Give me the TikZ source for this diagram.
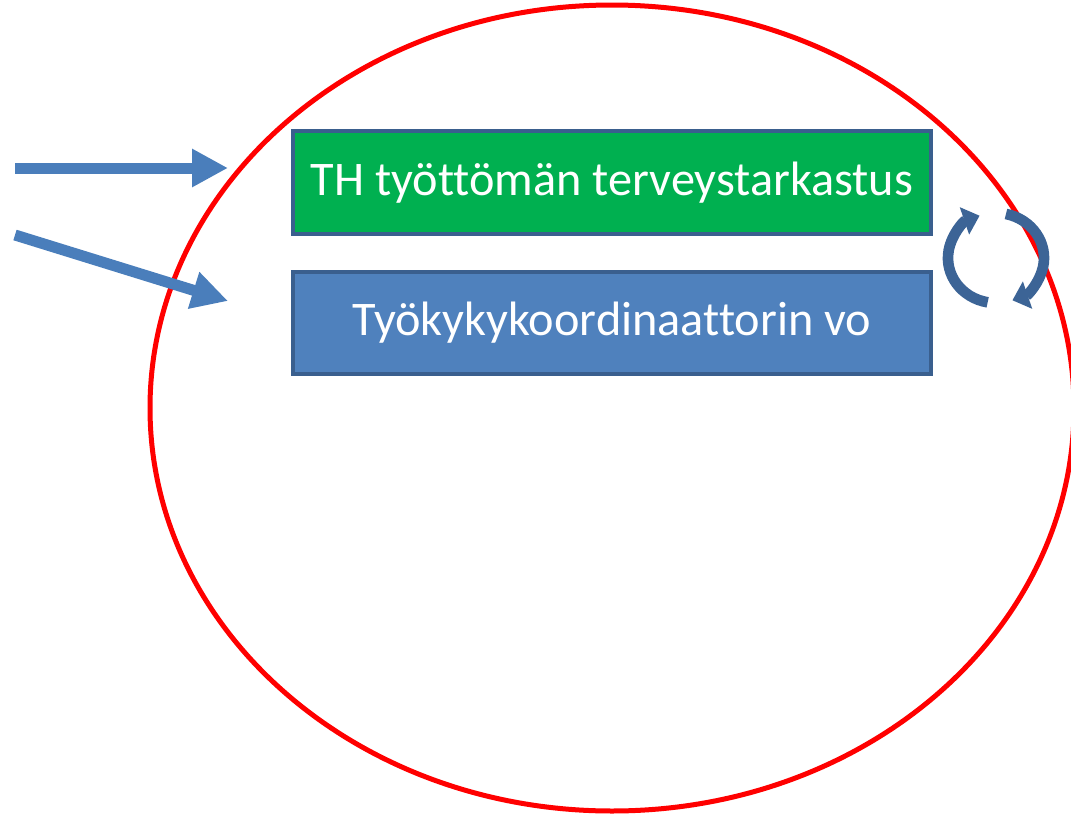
\documentclass[tikz,border=0pt]{standalone}
\usepackage{fontspec}
\setmainfont[Ligatures=NoCommon]{Carlito}
\usetikzlibrary{arrows.meta}

\definecolor{arrowblue}{HTML}{4A7EBB}
\definecolor{cycleblue}{HTML}{3C6496}
\definecolor{boxedge}{HTML}{3A5F8E}
\definecolor{boxgreen}{HTML}{00B050}
\definecolor{boxblue}{HTML}{4F81BD}

\tikzset{
  taskbox/.style={draw=boxedge, line width=3pt, minimum width=478pt, minimum height=77pt,
    inner sep=0pt, text=white, font=\fontsize{36.2}{42}\selectfont},
  bigarrow/.style={arrowblue, line width=8.25pt, -{Triangle[length=27pt,width=27pt]}},
  cyclearrow/.style={cycleblue, line width=8pt, -{Triangle[length=12pt,width=21pt]}}
}

\begin{document}
\begin{tikzpicture}[x=0.75pt,y=-0.75pt]
    \useasboundingbox (0,0) rectangle (1071,814);
    \clip (0,0) rectangle (1071,814);

    % Red ellipse
    \draw[red, line width=3.75pt] (612,408) ellipse [x radius=462, y radius=403];

    % Boxes
    \node[taskbox, fill=boxgreen] (check) at (612,182.5) {TH työttömän terveystarkastus};
    \node[taskbox, fill=boxblue] (coord) at (612,323) {Työkykykoordinaattorin vo};

    % Incoming arrows
    \coordinate (in1) at (15,168);
    \coordinate (tip1) at (228,168);
    \coordinate (in2) at (15,235);
    \coordinate (tip2) at (228,301);
    \draw[bigarrow] (in1) -- (tip1);
    \draw[bigarrow] (in2) -- (tip2);

    % Cycle arrows
    \coordinate (cyc) at (996,258);
    \draw[cyclearrow] (cyc) ++(100:48 and 45) arc[start angle=100, end angle=250, x radius=48, y radius=45];
    \draw[cyclearrow] (cyc) ++(-78:48 and 45) arc[start angle=-78, end angle=70, x radius=48, y radius=45];
\end{tikzpicture}
\end{document}
